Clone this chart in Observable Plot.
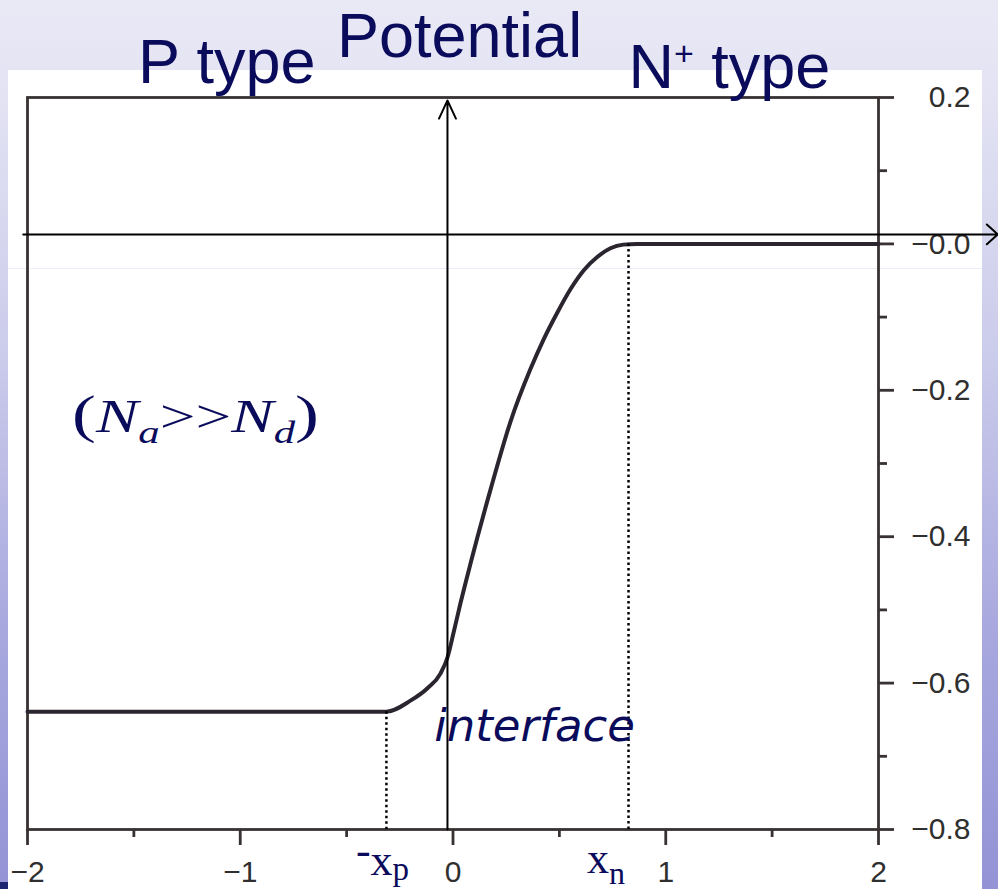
<!DOCTYPE html>
<html>
<head>
<meta charset="utf-8">
<script src="https://cdn.jsdelivr.net/npm/d3@7"></script>
<script src="https://cdn.jsdelivr.net/npm/@observablehq/plot@0.6"></script>
<style>
  html, body { margin: 0; padding: 0; }
  body {
    width: 998px; height: 889px; overflow: hidden; position: relative;
    background: linear-gradient(to bottom, #e9e9f6 0%, #e2e2f3 12%, #cbcbeb 40%, #a9a9df 70%, #9393d6 100%);
  }
  #sheet { position: absolute; left: 8px; top: 70px; width: 974px; height: 819px; background: #fff; }
  #seam { position: absolute; left: 8px; top: 268px; width: 974px; height: 1px; background: #ececf8; }
  #corner { position: absolute; left: 0; top: 882px; width: 8px; height: 7px; background: #1d2470; }
  #chart { position: absolute; left: 0; top: 0; }
</style>
</head>
<body>
<div id="sheet"></div>
<div id="seam"></div>
<div id="corner"></div>
<div id="chart"></div>
<script>
// Electrostatic potential across an abrupt P–N+ junction (position in µm, potential in V)
const position  = [-2, -1, -0.313, -0.20, -0.12, -0.059, -0.026, 0.002, 0.035, 0.082, 0.176, 0.270, 0.364, 0.425, 0.490, 0.552, 0.615, 0.678, 0.740, 0.800, 0.866, 1.5, 2];
const potential = [-0.639, -0.639, -0.639, -0.624, -0.607, -0.587, -0.565, -0.532, -0.491, -0.437, -0.336, -0.243, -0.171, -0.131, -0.094, -0.062, -0.036, -0.018, -0.006, -0.001, 0, 0, 0];

// depletion-region edges
const edgeX = [-0.313, 0.825];
const edgeV = [-0.639, 0];

// axis ticks
const xTicksMajor = [-2, -1, 0, 1, 2];
const xTicksMinor = [-1.5, -0.5, 0.5, 1.5];
const xTickLabels = ["−2", "−1", "0", "1", "2"];
const yTicksMajor = [0.2, 0, -0.2, -0.4, -0.6, -0.8];
const yTicksMinor = [0.1, -0.1, -0.3, -0.5, -0.7];
const yTickLabels = ["0.2", "−0.0", "−0.2", "−0.4", "−0.6", "−0.8"];

// hand-drawn "Potential" / position axes laid over the plot
const potentialAxis = {x: -0.026, from: -0.8, to: 0.196};
const positionAxis = {v: 0.013, from: -2.02, to: 2.56};

const curveData = position.map((x, i) => ({x, v: potential[i]}));
const edges = edgeX.map((x, i) => ({x, v: edgeV[i]}));

const INK = "#383232";
const NAVY = "#0b0b5c";
const SANS = "'Liberation Sans', Arial, Helvetica, sans-serif";
const SERIF = "'Liberation Serif', 'Times New Roman', serif";

// text annotations drawn in the chart's own coordinates
function annotations(index, {x, y}) {
  const g = d3.create("svg:g").attr("fill", NAVY).attr("text-anchor", "start");

  g.append("text").attr("x", x(-1.478)).attr("y", y(0.219))
    .attr("font-family", SANS).attr("font-size", 63).text("P type");
  g.append("text").attr("x", x(-0.543)).attr("y", y(0.2547))
    .attr("font-family", SANS).attr("font-size", 63).text("Potential");

  const n = g.append("text").attr("x", x(0.827)).attr("y", y(0.2123))
    .attr("font-family", SANS).attr("font-size", 63);
  n.append("tspan").text("N");
  n.append("tspan").attr("font-size", 34).attr("dy", -23).text("+");
  n.append("tspan").attr("dy", 23).text(" type");

  // (Na >> Nd)
  const f = g.append("g")
    .attr("transform", `translate(${x(-1.788)},${y(-0.2577)}) scale(1.38,1)`)
    .append("text").attr("font-family", SERIF).attr("font-size", 46);
  f.append("tspan").attr("font-size", 52).text("(");
  f.append("tspan").attr("font-style", "italic").text("N");
  f.append("tspan").attr("font-style", "italic").attr("font-size", 31).attr("dy", 11).text("a");
  f.append("tspan").attr("dy", -11).text(">>");
  f.append("tspan").attr("font-style", "italic").text("N");
  f.append("tspan").attr("font-style", "italic").attr("font-size", 31).attr("dy", 11).text("d");
  f.append("tspan").attr("font-size", 52).attr("dy", -11).text(")");

  g.append("text").attr("x", x(-0.086)).attr("y", y(-0.680))
    .attr("font-family", "'DejaVu Sans', Verdana, sans-serif")
    .attr("font-style", "italic").attr("font-size", 45).text("interface");

  // -xp and xn under the depletion edges
  const p = g.append("text").attr("x", x(edgeX[0]) - 30).attr("y", y(-0.863))
    .attr("font-family", SERIF).attr("font-size", 44);
  p.append("tspan").attr("dy", -10).text("-");
  p.append("tspan").attr("dy", 10).text("x");
  p.append("tspan").attr("font-size", 33).attr("dy", 5).text("p");

  const q = g.append("text").attr("x", x(edgeX[1]) - 41).attr("y", y(-0.860))
    .attr("font-family", SERIF).attr("font-size", 44);
  q.append("tspan").text("x");
  q.append("tspan").attr("font-size", 32).attr("dy", 11).text("n");

  return g.node();
}

const chart = Plot.plot({
  width: 998,
  height: 889,
  marginLeft: 27,
  marginRight: 120,
  marginTop: 97,
  marginBottom: 60,
  style: {background: "transparent", overflow: "visible"},
  x: {domain: [-2, 2]},
  y: {domain: [-0.8, 0.2]},
  marks: [
    Plot.frame({stroke: INK, strokeWidth: 2.8}),
    // bottom axis
    Plot.axisX(xTicksMajor, {anchor: "bottom", tickSize: 16, tickPadding: 15, stroke: INK, strokeWidth: 2.8,
      fill: "#2f2f2f", fontSize: 30, fontFamily: SANS, label: null,
      tickFormat: (d) => xTickLabels[xTicksMajor.indexOf(d)]}),
    Plot.axisX(xTicksMinor, {anchor: "bottom", tickSize: 8, stroke: INK, strokeWidth: 2.8, fill: "none", label: null}),
    // right axis
    Plot.axisY(yTicksMajor, {anchor: "right", tickSize: 15, tickPadding: 77, textAnchor: "end", stroke: INK, strokeWidth: 2.8,
      fill: "#2f2f2f", fontSize: 30, fontFamily: SANS, label: null,
      tickFormat: (d) => yTickLabels[yTicksMajor.indexOf(d)]}),
    Plot.axisY(yTicksMinor, {anchor: "right", tickSize: 8, stroke: INK, strokeWidth: 2.8, fill: "none", label: null}),
    // potential profile
    Plot.line(curveData, {x: "x", y: "v", curve: "monotone-x", stroke: "#2b2530", strokeWidth: 4}),
    // depletion edges
    Plot.ruleX(edges, {x: "x", y1: "v", y2: -0.8, stroke: "#000", strokeWidth: 2.5, strokeDasharray: "2.5,3"}),
    // overlay axes
    Plot.arrow([potentialAxis], {x1: "x", x2: "x", y1: "from", y2: "to", stroke: "#000", strokeWidth: 2,
      headLength: 15, headAngle: 50}),
    Plot.arrow([positionAxis], {x1: "from", x2: "to", y1: "v", y2: "v", stroke: "#000", strokeWidth: 2,
      headLength: 11, headAngle: 85}),
    annotations
  ]
});
document.getElementById("chart").append(chart);
</script>
</body>
</html>
